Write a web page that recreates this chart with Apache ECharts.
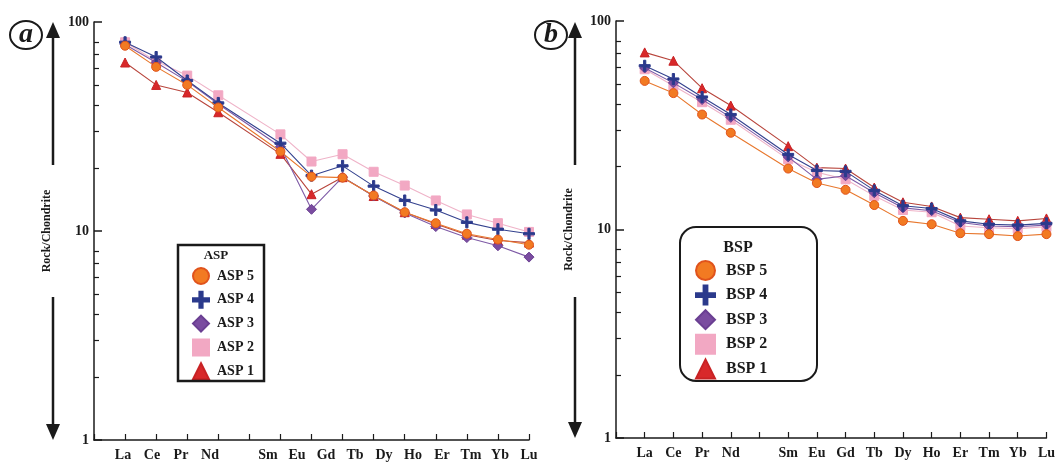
<!DOCTYPE html>
<html>
<head>
<meta charset="utf-8">
<script src="https://cdn.jsdelivr.net/npm/echarts@6/dist/echarts.min.js"></script>
<style>
  html, body { margin: 0; padding: 0; background: #fff; }
  #chart { width: 1058px; height: 463px; }
</style>
</head>
<body>
<div id="chart"></div>
<script>
// REE labels (blank = Pm gap)
const ELEMENTS = ['La', 'Ce', 'Pr', 'Nd', '', 'Sm', 'Eu', 'Gd', 'Tb', 'Dy', 'Ho', 'Er', 'Tm', 'Yb', 'Lu'];
// panel a plots its points on one slot fewer than the labels
const SLOTS_A = ['La', 'Ce', 'Pr', 'Nd', '', 'Sm', 'Eu', 'Gd', 'Tb', 'Dy', 'Ho', 'Er', 'Tm', 'Lu'];
const Y_TICKS_MINOR = [2, 3, 4, 5, 6, 7, 8, 20, 30, 40, 50, 60, 70, 80];

const ASP_NAMES = ['ASP 5', 'ASP 4', 'ASP 3', 'ASP 2', 'ASP 1'];
const asp5 = [77, 61, 50, 39, null, 24, 18.2, 18, 14.8, 12.3, 10.9, 9.7, 9.1, 8.6];
const asp4 = [80, 68, 52.5, 41, null, 26.3, 18.4, 20.5, 16.4, 14.0, 12.6, 11.0, 10.2, 9.7];
const asp3 = [78, 64, 52, 40.5, null, 25.3, 12.7, 18.1, 14.7, 12.2, 10.5, 9.3, 8.5, 7.5];
const asp2 = [80, 65, 55.4, 44.6, null, 29, 21.5, 23.3, 19.2, 16.5, 14.0, 12.0, 10.9, 9.9];
const asp1 = [64, 50, 46, 37, null, 23.4, 15.0, 18.1, 14.7, 12.3, 10.8, 9.6, 9.0, 8.8];

const BSP_NAMES = ['BSP 5', 'BSP 4', 'BSP 3', 'BSP 2', 'BSP 1'];
const bsp5 = [51.6, 45.1, 35.6, 29.1, null, 19.6, 16.7, 15.5, 13.1, 11.0, 10.6, 9.6, 9.5, 9.3, 9.5];
const bsp4 = [61, 52.7, 43.2, 35.6, null, 22.9, 19.2, 19.0, 15.4, 13.0, 12.6, 11.0, 10.6, 10.5, 10.7];
const bsp3 = [59.5, 50.5, 42, 34.5, null, 22.3, 17.4, 18.1, 15.0, 12.7, 12.3, 10.8, 10.4, 10.3, 10.5];
const bsp2 = [58.7, 48.9, 40.8, 33.6, null, 21.7, 18.8, 17.4, 14.5, 12.4, 12.1, 10.4, 10.2, 10.1, 10.3];
const bsp1 = [70.7, 64.5, 47.6, 39.3, null, 25.1, 19.8, 19.6, 15.9, 13.5, 12.9, 11.4, 11.2, 11.0, 11.3];

const FONT = '"Liberation Serif", "Times New Roman", serif';
const INK = '#1a1a1a';

// marker styles per sample number (5..1)
const STYLES = [
  { symbol: 'circle', size: 9, color: '#F27A22', border: '#E0531C', line: '#E8782E' },
  { symbol: 'path://M4,0H6V4H10V6H6V10H4V6H0V4H4Z', size: 11, color: '#2B3A8C', border: '#2B3A8C', line: '#33418E' },
  { symbol: 'diamond', size: 10, color: '#7A4CA0', border: '#6A3F92', line: '#7E5AA6' },
  { symbol: 'rect', size: 9, color: '#F2A8C3', border: '#F2A8C3', line: '#EFB3C8' },
  { symbol: 'triangle', size: 9, color: '#D8282A', border: '#C82224', line: '#B8453C' }
];
const LEGEND_ICONS = ['circle', STYLES[1].symbol, 'diamond', 'rect', 'triangle'];

const chart = echarts.init(document.getElementById('chart'), null, { renderer: 'canvas' });

function makeSeries(names, arrays, xIdx, yIdx) {
  return names.map((name, i) => ({
    name,
    type: 'line',
    xAxisIndex: xIdx,
    yAxisIndex: yIdx,
    data: [null, ...arrays[i]],
    connectNulls: true,
    symbol: STYLES[i].symbol,
    symbolSize: STYLES[i].size,
    z: 10 - i,
    lineStyle: { color: STYLES[i].line, width: 1.1 },
    itemStyle: { color: STYLES[i].color, borderColor: STYLES[i].border, borderWidth: 1 },
    emphasis: { disabled: true },
    animation: false
  }));
}

function yMain(gridIndex) {
  return {
    type: 'log', logBase: 10, min: 1, max: 100, gridIndex, position: 'left',
    name: 'Rock/Chondrite', nameLocation: 'middle', nameGap: 41,
    nameTextStyle: { fontFamily: FONT, fontWeight: 'bold', fontSize: 12, color: INK },
    axisLine: { show: true, lineStyle: { color: INK, width: 1.5 } },
    axisTick: { show: true, inside: true, length: 8, lineStyle: { color: INK, width: 1.5 } },
    axisLabel: { fontFamily: FONT, fontWeight: 'bold', fontSize: 14, color: INK, margin: 5 },
    splitLine: { show: false }
  };
}
function yMinor(gridIndex) {
  return {
    type: 'log', logBase: 10, min: 1, max: 100, gridIndex, position: 'left',
    axisLine: { show: false },
    axisTick: { show: true, inside: true, length: 5, customValues: Y_TICKS_MINOR, lineStyle: { color: INK, width: 1.2 } },
    axisLabel: { show: false },
    splitLine: { show: false }
  };
}
function xLabels(gridIndex) {
  return {
    type: 'category', gridIndex, position: 'bottom', boundaryGap: false,
    data: ['', ...ELEMENTS],
    axisLine: { show: true, lineStyle: { color: INK, width: 1.5 } },
    axisTick: { show: false },
    axisLabel: { interval: 0, fontFamily: FONT, fontWeight: 'bold', fontSize: 14, color: INK, margin: 8 },
    splitLine: { show: false }
  };
}
function xTicks(gridIndex, data) {
  return {
    type: 'category', gridIndex, position: 'bottom', boundaryGap: false,
    data: data,
    axisLine: { show: false },
    axisTick: { show: true, inside: true, length: 6, interval: 0, lineStyle: { color: INK, width: 1.2 } },
    axisLabel: { show: false },
    splitLine: { show: false }
  };
}

function arrow(x, yTip, yEnd, up) {
  const h = up ? 16 : -16;
  return [
    { type: 'line', shape: { x1: x, y1: yTip + h * 0.8, x2: x, y2: yEnd }, style: { stroke: INK, lineWidth: 2.5 } },
    { type: 'polygon', shape: { points: [[x, yTip], [x - 7, yTip + h], [x + 7, yTip + h]] }, style: { fill: INK } }
  ];
}
function badge(cx, letter) {
  return [
    { type: 'ellipse', shape: { cx, cy: 35, rx: 16, ry: 14 }, style: { fill: '#fff', stroke: INK, lineWidth: 2 } },
    { type: 'text', x: cx, y: 35, style: { text: letter, fontFamily: FONT, fontStyle: 'italic', fontWeight: 'bold', fontSize: 28, fill: INK, align: 'center', verticalAlign: 'middle' } }
  ];
}

chart.setOption({
  backgroundColor: '#fff',
  animation: false,
  grid: [
    { left: 94, top: 22, width: 435, height: 418 },
    { left: 616, top: 21, width: 435, height: 417 }
  ],
  xAxis: [xLabels(0), xTicks(0, ['', ...SLOTS_A]), xLabels(1), xTicks(1, ['', ...ELEMENTS])],
  yAxis: [yMain(0), yMinor(0), yMain(1), yMinor(1)],
  legend: [
    {
      data: ASP_NAMES.map((n, i) => ({ name: n, icon: LEGEND_ICONS[i] })),
      orient: 'vertical', left: 187, top: 262, itemWidth: 16, itemHeight: 16, itemGap: 5.8,
      textStyle: { fontFamily: FONT, fontWeight: 'bold', fontSize: 14, color: INK, padding: [0, 0, 0, 3] },
      selectedMode: false
    },
    {
      data: BSP_NAMES.map((n, i) => ({ name: n, icon: LEGEND_ICONS[i] })),
      orient: 'vertical', left: 690, top: 255, itemWidth: 19, itemHeight: 19, itemGap: 3.6,
      textStyle: { fontFamily: FONT, fontWeight: 'bold', fontSize: 16, color: INK, padding: [0, 0, 0, 6] },
      selectedMode: false
    }
  ],
  graphic: [
    ...arrow(53, 22, 165, true),
    ...arrow(53, 440, 297, false),
    ...arrow(575, 22, 165, true),
    ...arrow(575, 438, 297, false),
    ...badge(26, 'a'),
    ...badge(551, 'b'),
    { type: 'rect', shape: { x: 178, y: 245, width: 86, height: 136 }, style: { fill: 'rgba(0,0,0,0)', stroke: INK, lineWidth: 2.5 }, z: 5 },
    { type: 'text', x: 216, y: 256, style: { text: 'ASP', fontFamily: FONT, fontWeight: 'bold', fontSize: 13, fill: INK, align: 'center', verticalAlign: 'middle' } },
    { type: 'rect', shape: { x: 680, y: 227, width: 137, height: 154, r: 16 }, style: { fill: 'rgba(0,0,0,0)', stroke: INK, lineWidth: 2 }, z: 5 },
    { type: 'text', x: 738, y: 248, style: { text: 'BSP', fontFamily: FONT, fontWeight: 'bold', fontSize: 16, fill: INK, align: 'center', verticalAlign: 'middle' } }
  ],
  series: [
    ...makeSeries(ASP_NAMES, [asp5, asp4, asp3, asp2, asp1], 1, 0),
    ...makeSeries(BSP_NAMES, [bsp5, bsp4, bsp3, bsp2, bsp1], 3, 2)
  ]
});
</script>
</body>
</html>
